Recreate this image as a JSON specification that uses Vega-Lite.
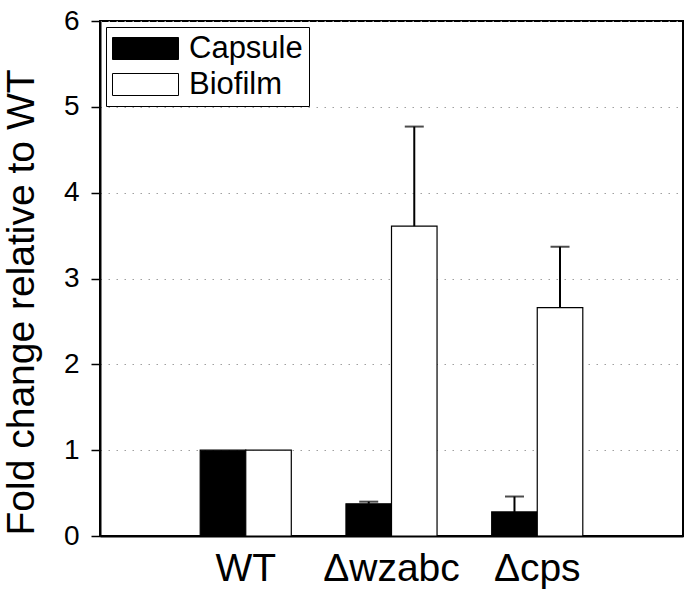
{
  "$schema": "https://vega.github.io/schema/vega-lite/v6.json",
  "autosize": {"type": "none"},
  "padding": {"left": 100, "top": 21, "right": 2, "bottom": 58},
  "width": 583,
  "height": 515,
  "background": "white",
  "config": {
    "font": "Liberation Sans",
    "view": {"stroke": "black", "strokeWidth": 2}
  },
  "data": {
    "values": [
      {"strain": "WT", "type": "Capsule", "value": 1.0, "upper": null},
      {"strain": "WT", "type": "Biofilm", "value": 1.0, "upper": null},
      {"strain": "Δwzabc", "type": "Capsule", "value": 0.376, "upper": 0.40},
      {"strain": "Δwzabc", "type": "Biofilm", "value": 3.61, "upper": 4.77},
      {"strain": "Δcps", "type": "Capsule", "value": 0.28, "upper": 0.46},
      {"strain": "Δcps", "type": "Biofilm", "value": 2.66, "upper": 3.37}
    ]
  },
  "encoding": {
    "x": {
      "field": "strain",
      "type": "nominal",
      "sort": ["WT", "Δwzabc", "Δcps"],
      "scale": {"paddingInner": 0, "paddingOuter": 0.5},
      "axis": {
        "title": null,
        "labelAngle": 0,
        "labelFontSize": 39,
        "labelColor": "black",
        "labelPadding": 13,
        "ticks": false,
        "domainColor": "black",
        "domainWidth": 2
      }
    },
    "xOffset": {
      "field": "type",
      "type": "nominal",
      "sort": ["Capsule", "Biofilm"],
      "scale": {"paddingInner": 0, "paddingOuter": 0.6}
    }
  },
  "layer": [
    {
      "mark": {"type": "bar", "stroke": "black", "strokeWidth": 1.2},
      "encoding": {
        "y": {
          "field": "value",
          "type": "quantitative",
          "scale": {"domain": [0, 6], "nice": false},
          "axis": {
            "title": "Fold change relative to WT",
            "titleFontSize": 39,
            "titleFontWeight": "normal",
            "titleColor": "black",
            "titleBaseline": "alphabetic",
            "titleX": -67,
            "titleY": 281,
            "titleAngle": -90,
            "values": [0, 1, 2, 3, 4, 5, 6],
            "format": "d",
            "labelFontSize": 28,
            "labelColor": "black",
            "labelPadding": 12,
            "tickSize": 9,
            "tickWidth": 1.5,
            "tickColor": "black",
            "domainColor": "black",
            "domainWidth": 2,
            "grid": true,
            "gridColor": "#a0a0a0",
            "gridDash": [1.5, 6.5],
            "gridWidth": 1.2
          }
        },
        "fill": {
          "field": "type",
          "type": "nominal",
          "sort": ["Capsule", "Biofilm"],
          "scale": {"domain": ["Capsule", "Biofilm"], "range": ["black", "white"]},
          "legend": {
            "title": null,
            "orient": "none",
            "legendX": 6,
            "legendY": 6,
            "padding": 6,
            "fillColor": "white",
            "strokeColor": "black",
            "symbolType": "M-3,-1H3V1H-3Z",
            "symbolSize": 484,
            "symbolOffset": 18,
            "symbolStrokeColor": "black",
            "symbolStrokeWidth": 1,
            "labelFontSize": 31,
            "labelColor": "black",
            "labelOffset": 28,
            "rowPadding": 4
          }
        }
      }
    },
    {
      "transform": [{"filter": "datum.upper != null"}],
      "mark": {"type": "rule", "color": "black", "strokeWidth": 2},
      "encoding": {
        "y": {"field": "value", "type": "quantitative"},
        "y2": {"field": "upper"}
      }
    },
    {
      "transform": [{"filter": "datum.upper != null"}],
      "mark": {"type": "tick", "color": "black", "thickness": 2, "size": 19, "orient": "horizontal"},
      "encoding": {
        "y": {"field": "upper", "type": "quantitative"}
      }
    }
  ]
}
